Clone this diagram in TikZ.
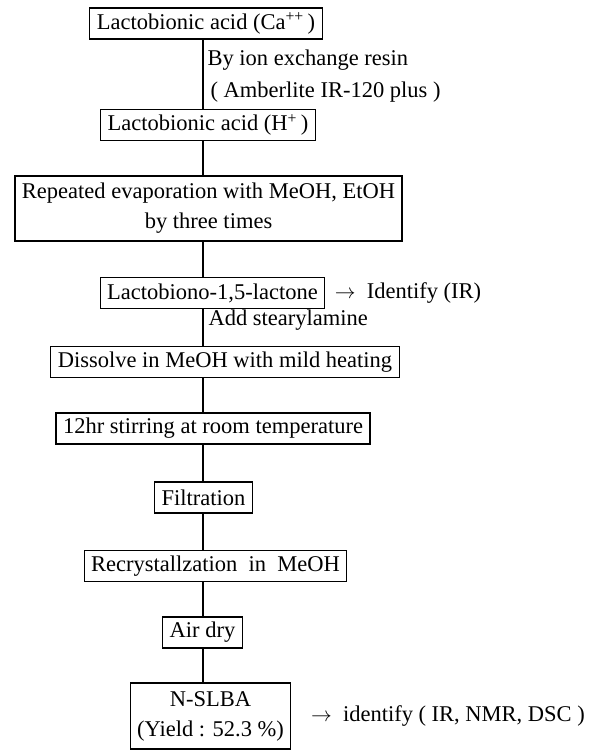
\documentclass[tikz,border=0pt]{standalone}
\usepackage{fontspec}
\setmainfont{Liberation Serif}

\tikzset{
  stage/.style={draw, line width=1.1pt, inner xsep=7pt, inner ysep=4pt, minimum height=31pt, align=center},
  note/.style={anchor=base west, inner sep=0pt}
}

\begin{document}
\begin{tikzpicture}[x=1pt, y=-1pt, line width=1.1pt, font=\fontsize{22.5}{30}\selectfont]
  \useasboundingbox (0,0) rectangle (602,750);
  % Draw spine of the flow
  \coordinate (spine) at (203,0);

  % Draw stages
  \node[stage] (acidca) at (206,23.5) {Lactobionic acid (Ca\textsuperscript{++}\,)};
  \node[stage] (acidh) at (208,125) {Lactobionic acid (H\textsuperscript{+}\,)};
  \node[stage, minimum height=65pt] (evap) at (208.5,208.5) {Repeated evaporation with MeOH, EtOH\\by three times};
  \node[stage] (lactone) at (212.5,293) {Lactobiono-1,5-lactone};
  \node[stage] (dissolve) at (225,362) {Dissolve in MeOH with mild heating};
  \node[stage] (stir) at (213,428.5) {12hr stirring at room temperature};
  \node[stage] (filter) at (203.5,497.5) {Filtration};
  \node[stage] (recryst) at (215.5,566) {Recrystallzation\enspace in\enspace MeOH};
  \node[stage] (dry) at (202.5,632.5) {Air dry};
  \node[stage, minimum height=66pt] (slba) at (210.5,716) {N-SLBA\\(Yield : 52.3 \%)};

  % Draw connectors
  \foreach \a/\b in {acidca/acidh, acidh/evap, evap/lactone, lactone/dissolve, dissolve/stir, stir/filter, filter/recryst, recryst/dry, dry/slba}
    \draw (\a.south -| spine) -- (\b.north -| spine);

  % Draw side notes
  \node[note] (resin) at (207,65) {By ion exchange resin};
  \node[note] (amber) at (210,97) {( Amberlite IR-120 plus )};
  \node[note] (amine) at (208,325) {Add stearylamine};
  \node[anchor=west, inner sep=0pt] (idir) at ([xshift=9pt]lactone.east) {$\rightarrow$\enspace Identify (IR)};
  \node[anchor=west, inner sep=0pt] (idall) at ([xshift=19pt]slba.east) {$\rightarrow$\enspace identify ( IR, NMR, DSC )};
\end{tikzpicture}
\end{document}
